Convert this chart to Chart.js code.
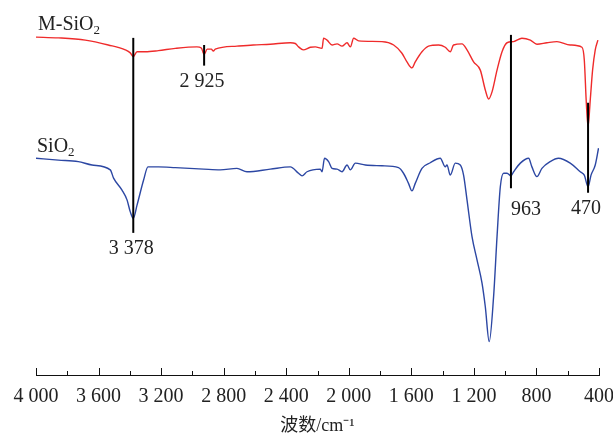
<!DOCTYPE html>
<html>
<head>
<meta charset="utf-8">
<script src="https://cdn.jsdelivr.net/npm/chart.js@4/dist/chart.umd.min.js"></script>
<style>
  html, body { margin: 0; padding: 0; background: #fff; }
  #ftir { display: block; }
</style>
</head>
<body>
<canvas id="ftir" width="613" height="437"></canvas>
<script>
// Wavenumbers (cm-1) and transmittance (arbitrary %)
const mSiO2Wave = [4000, 3857, 3685, 3538, 3429, 3397, 3378, 3354, 3301, 3218, 3109, 2971, 2943, 2925, 2905, 2879, 2866, 2854,
  2715, 2611, 2502, 2374, 2342, 2321, 2291, 2246, 2214, 2171, 2161, 2139, 2107, 2075, 2043, 2011, 1990, 1969, 1937,
  1788, 1713, 1660, 1628, 1596, 1575, 1532, 1490, 1426, 1383, 1351, 1330, 1276, 1244, 1202, 1159, 1127, 1106, 1084,
  1052, 1020, 988, 946, 893, 839, 797, 733, 669, 584, 509, 494, 481, 470, 456, 441, 424, 407];
const mSiO2Trans = [90.1, 89.9, 89.3, 88.0, 86.7, 85.9, 84.9, 86.2, 86.2, 86.5, 87.1, 87.5, 87.2, 85.5, 86.9, 86.9, 86.4, 86.9,
  87.7, 88.0, 88.2, 88.6, 88.4, 87.5, 86.7, 87.4, 87.5, 87.1, 89.8, 89.3, 88.0, 88.3, 87.7, 88.6, 87.5, 89.8, 89.1,
  88.9, 88.0, 85.8, 83.5, 81.9, 83.5, 86.2, 87.7, 88.0, 87.4, 86.2, 88.0, 88.3, 86.7, 83.5, 81.3, 76.0, 73.6, 75.5,
  81.3, 86.2, 88.6, 88.9, 89.8, 89.3, 88.2, 88.6, 88.9, 88.0, 87.4, 84.0, 72.5, 66.2, 73.3, 81.3, 86.7, 89.3];

const siO2Wave = [4000, 3857, 3730, 3642, 3525, 3504, 3450, 3418, 3397, 3378, 3354, 3312, 3284, 3216, 3109, 2928, 2822, 2715,
  2651, 2502, 2374, 2321, 2299, 2267, 2182, 2171, 2155, 2129, 2107, 2075, 2043, 2011, 1990, 1958, 1894, 1788, 1682,
  1650, 1618, 1596, 1575, 1532, 1479, 1415, 1383, 1372, 1351, 1319, 1287, 1266, 1244, 1212, 1180, 1148, 1127, 1102,
  1074, 1052, 1031, 1010, 988, 963, 946, 903, 850, 829, 797, 765, 712, 659, 584, 520, 494, 470, 451, 424, 403];
const siO2Trans = [57.8, 57.3, 56.9, 56.0, 54.7, 52.5, 49.3, 46.7, 43.5, 41.8, 45.3, 52.0, 55.5, 55.5, 55.3, 54.9, 54.7, 55.1,
  54.2, 54.9, 55.5, 53.8, 53.1, 54.2, 54.9, 54.2, 57.8, 56.9, 55.1, 54.9, 54.2, 56.0, 54.7, 56.5, 56.0, 55.8, 55.3,
  53.8, 51.1, 49.1, 51.1, 55.1, 56.6, 57.8, 55.5, 56.0, 53.3, 56.5, 56.0, 53.3, 46.7, 36.9, 30.7, 24.5, 18.2, 8.9,
  20.9, 36.9, 50.2, 53.8, 53.8, 53.1, 54.2, 56.5, 57.8, 55.5, 52.9, 55.1, 56.9, 57.8, 56.5, 54.2, 53.3, 50.2, 53.3, 56.0, 60.5];

// Marked peaks: wavenumber, label, marker line top/bottom (transmittance)
const peakWave = [3378, 2925, 963, 470];
const peakLabels = ['3 378', '2 925', '963', '470'];
const peakTop = [89.9, 88.0, 90.7, 72.6];
const peakBottom = [37.9, 82.5, 49.8, 48.6];

const serifFont = '"Liberation Serif", "Times New Roman", serif';

function fmtWave(v) {
  if (v >= 1000) {
    const rest = String(v % 1000).padStart(3, '0');
    return Math.floor(v / 1000) + ' ' + rest;
  }
  return String(v);
}

function pairs(xs, ys) {
  return xs.map((x, i) => ({ x: x, y: ys[i] }));
}

// inward ticks, peak markers and curve names
const decorations = {
  id: 'decorations',
  afterDraw(chart) {
    const ctx = chart.ctx;
    const xs = chart.scales.x;
    const ys = chart.scales.y;
    const base = chart.chartArea.bottom;
    ctx.save();

    ctx.strokeStyle = '#111';
    ctx.lineWidth = 1;
    for (let w = 400; w <= 4000; w += 200) {
      const px = Math.round(xs.getPixelForValue(w)) + 0.5;
      const len = (w % 400 === 0) ? 7 : 4;
      ctx.beginPath();
      ctx.moveTo(px, base);
      ctx.lineTo(px, base - len);
      ctx.stroke();
    }

    ctx.lineWidth = 2;
    ctx.strokeStyle = '#000';
    ctx.fillStyle = '#222';
    ctx.font = '20px ' + serifFont;
    ctx.textBaseline = 'alphabetic';
    peakWave.forEach((w, i) => {
      const px = xs.getPixelForValue(w);
      const top = ys.getPixelForValue(peakTop[i]);
      const bottom = ys.getPixelForValue(peakBottom[i]);
      ctx.beginPath();
      ctx.moveTo(px, top);
      ctx.lineTo(px, bottom);
      ctx.stroke();
      if (w === 963) {
        ctx.textAlign = 'left';
        ctx.fillText(peakLabels[i], px, bottom + 27);
      } else {
        ctx.textAlign = 'center';
        ctx.fillText(peakLabels[i], px - 2, bottom + 21);
      }
    });

    function chem(text, x, y) {
      ctx.textAlign = 'left';
      ctx.font = '20px ' + serifFont;
      ctx.fillText(text, x, y);
      const w = ctx.measureText(text).width;
      ctx.font = '13px ' + serifFont;
      ctx.fillText('2', x + w, y + 4);
    }
    chem('M-SiO', 38, 30);
    chem('SiO', 37, 152);
    ctx.restore();
  }
};

new Chart(document.getElementById('ftir'), {
  type: 'line',
  data: {
    datasets: [{
      label: 'M-SiO2',
      data: pairs(mSiO2Wave, mSiO2Trans),
      borderColor: '#ef2b2b',
      borderWidth: 1.4,
      pointRadius: 0,
      cubicInterpolationMode: 'monotone',
      fill: false
    }, {
      label: 'SiO2',
      data: pairs(siO2Wave, siO2Trans),
      borderColor: '#2c47a3',
      borderWidth: 1.4,
      pointRadius: 0,
      cubicInterpolationMode: 'monotone',
      fill: false
    }]
  },
  options: {
    responsive: false,
    animation: false,
    devicePixelRatio: 1,
    layout: { padding: { left: 36, right: 14, top: 0, bottom: 0 } },
    plugins: { legend: { display: false }, tooltip: { enabled: false } },
    scales: {
      x: {
        type: 'linear',
        reverse: true,
        min: 400,
        max: 4000,
        grid: { display: false, drawTicks: false },
        border: { display: true, color: '#111', width: 1 },
        ticks: {
          stepSize: 400,
          padding: 10,
          color: '#222',
          font: { family: serifFont, size: 20 },
          maxRotation: 0,
          callback: (v) => fmtWave(v)
        },
        title: {
          display: true,
          text: '波数/cm⁻¹',
          color: '#222',
          font: { family: serifFont + ', "Noto Sans CJK SC"', size: 18 },
          padding: { top: 2, bottom: 0 }
        },
        afterFit: (scale) => {
          scale.height = 62;
          scale.paddingLeft = 0;
          scale.paddingRight = 0;
        }
      },
      y: {
        display: false,
        min: 0,
        max: 100
      }
    }
  },
  plugins: [decorations]
});
</script>
</body>
</html>
